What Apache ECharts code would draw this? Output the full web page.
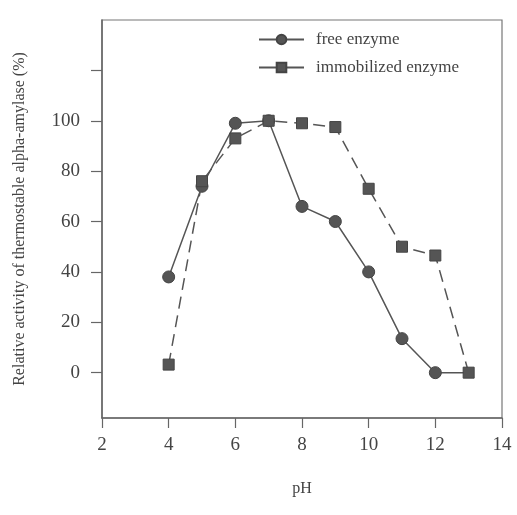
<!DOCTYPE html>
<html>
<head>
<meta charset="utf-8">
<script src="https://cdn.jsdelivr.net/npm/echarts@6/dist/echarts.min.js"></script>
<style>html,body{margin:0;padding:0;background:#fff;}#c{width:517px;height:515px;}</style>
</head>
<body>
<div id="c"></div>
<script>
var phValues = [4, 5, 6, 7, 8, 9, 10, 11, 12, 13];
var freeEnzyme = [38, 74, 99, 100, 66, 60, 40, 13.5, 0, 0];
var immobilizedEnzyme = [3.2, 76, 93, 100, 99, 97.5, 73, 50, 46.5, 0];
var yTickValues = [0, 20, 40, 60, 80, 100, 120];
var yLabelValues = [0, 20, 40, 60, 80, 100];

var font = 'Liberation Serif';
var ink = '#555';

var freeData = phValues.map(function (x, i) {
  var item = { value: [x, freeEnzyme[i]] };
  if (i === phValues.length - 1) item.symbol = 'none';
  return item;
});
var immData = phValues.map(function (x, i) { return [x, immobilizedEnzyme[i]]; });

var chart = echarts.init(document.getElementById('c'), null, { renderer: 'canvas' });
chart.setOption({
  animation: false,
  backgroundColor: '#fff',
  grid: { left: 102, right: 15, top: 20, bottom: 97, show: true, borderColor: '#777', borderWidth: 1.2 },
  legend: {
    orient: 'vertical', left: 253, top: 26, itemWidth: 45, itemHeight: 12, itemGap: 11,
    textStyle: { fontFamily: font, fontSize: 17, color: '#444', padding: [0, 0, 0, 7] },
    lineStyle: { type: 'solid' },
    data: ['free enzyme', 'immobilized enzyme']
  },
  xAxis: {
    type: 'value', min: 2, max: 14, interval: 2,
    name: 'pH', nameLocation: 'middle', nameGap: 63,
    nameTextStyle: { fontFamily: font, fontSize: 16, color: '#444' },
    axisLine: { onZero: false, lineStyle: { color: '#666', width: 1.5 } },
    axisTick: { show: true, inside: false, length: 10, lineStyle: { color: '#666', width: 1.2 } },
    axisLabel: { fontFamily: font, fontSize: 19, color: '#444', margin: 18 },
    splitLine: { show: false }
  },
  yAxis: {
    type: 'value', min: -18, max: 140,
    name: 'Relative activity of thermostable alpha-amylase (%)', nameLocation: 'middle', nameGap: 74,
    nameTextStyle: { fontFamily: font, fontSize: 16, color: '#444' },
    axisLine: { onZero: false, lineStyle: { color: '#666', width: 1.5 } },
    axisTick: { show: true, inside: false, length: 11, customValues: yTickValues, lineStyle: { color: '#666', width: 1.2 } },
    axisLabel: { fontFamily: font, fontSize: 19, color: '#444', margin: 22, customValues: yLabelValues },
    splitLine: { show: false }
  },
  series: [
    {
      name: 'free enzyme', type: 'line', data: freeData,
      symbol: 'circle', symbolSize: 12, z: 2,
      lineStyle: { color: ink, width: 1.5, type: 'solid' },
      itemStyle: { color: ink, borderColor: '#444', borderWidth: 1 }
    },
    {
      name: 'immobilized enzyme', type: 'line', data: immData,
      symbol: 'rect', symbolSize: 11, z: 3,
      lineStyle: { color: ink, width: 1.5, type: [12, 7] },
      itemStyle: { color: ink, borderColor: '#444', borderWidth: 1 }
    }
  ]
});
</script>
</body>
</html>
